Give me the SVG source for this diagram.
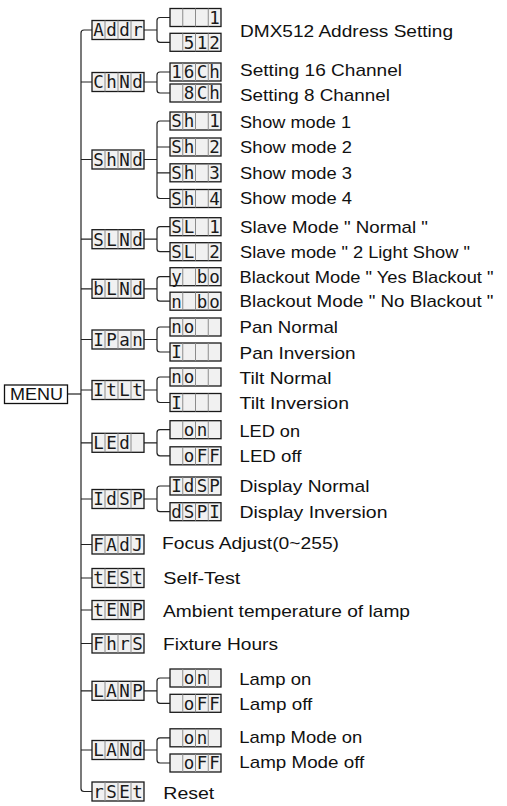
<svg xmlns="http://www.w3.org/2000/svg" xmlns:xlink="http://www.w3.org/1999/xlink" width="507" height="806" viewBox="0 0 507 806">
<style>
.box{fill:#f1f1f1;stroke:#1a1a1a;stroke-width:1.3}
.div{stroke:#8c8c8c;stroke-width:1;fill:none}
.seg{font-family:"DejaVu Sans Mono","Liberation Mono",monospace;font-size:17.5px;fill:#1a1a1a;text-anchor:middle}
.lbl{font-family:"Liberation Sans",Arial,sans-serif;font-size:17px;fill:#111}
.conn path{fill:none;stroke:#222;stroke-width:1.2}
</style>
<defs>
<g id="b1"><rect x="0" y="0" width="52" height="19" class="box"/><path d="M13 0V19M26 0V19M39 0V19" class="div"/></g>
<g id="b2"><rect x="0" y="0" width="51" height="18" class="box"/><path d="M12.75 0V18M25.5 0V18M38.25 0V18" class="div"/></g>
</defs>
<rect width="507" height="806" fill="#fff"/>

<g class="conn" id="connectors">
<path d="M67.5 394H81"/>
<path d="M92 30H84Q81 30 81 33V788.5Q81 791.5 84 791.5H92"/>
<path d="M81 82H92M81 159.5H92M81 239.2H92M81 288.8H92M81 339.5H92M81 390H92M81 442.8H92M81 499H92M81 544.5H92M81 578H92M81 610H92M81 643.5H92M81 690.8H92M81 750H92"/>
<path d="M144 30H157M170 17.5H160Q157 17.5 157 20.5V39.3Q157 42.3 160 42.3H170"/>
<path d="M144 82H157M170 72H160Q157 72 157 75V90Q157 93 160 93H170"/>
<path d="M144 159.5H157M170 121H160Q157 121 157 124V195.5Q157 198.5 160 198.5H170M157 147H170M157 172.8H170"/>
<path d="M144 239.2H157M170 226.7H160Q157 226.7 157 229.7V248.7Q157 251.7 160 251.7H170"/>
<path d="M144 288.8H157M170 276.7H160Q157 276.7 157 279.7V298.2Q157 301.2 160 301.2H170"/>
<path d="M144 339.5H157M170 327H160Q157 327 157 330V349Q157 352 160 352H170"/>
<path d="M144 390H157M170 377H160Q157 377 157 380V399.5Q157 402.5 160 402.5H170"/>
<path d="M144 442.8H157M170 429.7H160Q157 429.7 157 432.7V452.8Q157 455.8 160 455.8H170"/>
<path d="M144 499H157M170 486H160Q157 486 157 489V508.7Q157 511.7 160 511.7H170"/>
<path d="M144 690.8H157M170 678H160Q157 678 157 681V700.3Q157 703.3 160 703.3H170"/>
<path d="M144 750H157M170 737.8H160Q157 737.8 157 740.8V760Q157 763 160 763H170"/>
</g>

<g id="menu">
<rect x="4.5" y="385" width="63" height="18.5" fill="#fff" stroke="#111" stroke-width="1.3"/>
<text class="lbl" x="10" y="400.4" font-size="16.8" textLength="53" lengthAdjust="spacingAndGlyphs">MENU</text>
</g>

<!-- Level 1 nodes -->
<g id="n-addr"><use xlink:href="#b1" x="92" y="20.5"/><text class="seg" x="98.5 111.5 124.5 137.5" y="36.4">Addr</text></g>
<g id="n-chnd"><use xlink:href="#b1" x="92" y="72.5"/><text class="seg" x="98.5 111.5 124.5 137.5" y="88.4">ChNd</text></g>
<g id="n-shnd"><use xlink:href="#b1" x="92" y="150"/><text class="seg" x="98.5 111.5 124.5 137.5" y="165.9">ShNd</text></g>
<g id="n-slnd"><use xlink:href="#b1" x="92" y="229.7"/><text class="seg" x="98.5 111.5 124.5 137.5" y="245.6">SLNd</text></g>
<g id="n-blnd"><use xlink:href="#b1" x="92" y="279.3"/><text class="seg" x="98.5 111.5 124.5 137.5" y="295.2">bLNd</text></g>
<g id="n-ipan"><use xlink:href="#b1" x="92" y="330"/><text class="seg" x="98.5 111.5 124.5 137.5" y="345.9">IPan</text></g>
<g id="n-itlt"><use xlink:href="#b1" x="92" y="380.5"/><text class="seg" x="98.5 111.5 124.5 137.5" y="396.4">ItLt</text></g>
<g id="n-led"><use xlink:href="#b1" x="92" y="433.3"/><text class="seg" x="98.5 111.5 124.5" y="449.2">LEd</text></g>
<g id="n-idsp"><use xlink:href="#b1" x="92" y="489.5"/><text class="seg" x="98.5 111.5 124.5 137.5" y="505.4">IdSP</text></g>
<g id="n-fadj"><use xlink:href="#b1" x="92" y="535"/><text class="seg" x="98.5 111.5 124.5 137.5" y="550.9">FAdJ</text></g>
<g id="n-test"><use xlink:href="#b1" x="92" y="568.5"/><text class="seg" x="98.5 111.5 124.5 137.5" y="584.4">tESt</text></g>
<g id="n-temp"><use xlink:href="#b1" x="92" y="600.5"/><text class="seg" x="98.5 111.5 124.5 137.5" y="616.4">tENP</text></g>
<g id="n-fhrs"><use xlink:href="#b1" x="92" y="634"/><text class="seg" x="98.5 111.5 124.5 137.5" y="649.9">FhrS</text></g>
<g id="n-lamp"><use xlink:href="#b1" x="92" y="681.3"/><text class="seg" x="98.5 111.5 124.5 137.5" y="697.2">LANP</text></g>
<g id="n-land"><use xlink:href="#b1" x="92" y="740.5"/><text class="seg" x="98.5 111.5 124.5 137.5" y="756.4">LANd</text></g>
<g id="n-rset"><use xlink:href="#b1" x="92" y="782"/><text class="seg" x="98.5 111.5 124.5 137.5" y="797.9">rSEt</text></g>

<!-- Level 2 nodes -->
<g id="c-addr-1"><use xlink:href="#b2" x="170" y="8.5"/><text class="seg" x="214.6" y="23.9">1</text></g>
<g id="c-addr-512"><use xlink:href="#b2" x="170" y="33.3"/><text class="seg" x="189.1 201.9 214.6" y="48.7">512</text></g>
<g id="c-ch16"><use xlink:href="#b2" x="170" y="63"/><text class="seg" x="176.4 189.1 201.9 214.6" y="78.4">16Ch</text></g>
<g id="c-ch8"><use xlink:href="#b2" x="170" y="84"/><text class="seg" x="189.1 201.9 214.6" y="99.4">8Ch</text></g>
<g id="c-sh1"><use xlink:href="#b2" x="170" y="112"/><text class="seg" x="176.4 189.1 214.6" y="127.4">Sh1</text></g>
<g id="c-sh2"><use xlink:href="#b2" x="170" y="138"/><text class="seg" x="176.4 189.1 214.6" y="153.4">Sh2</text></g>
<g id="c-sh3"><use xlink:href="#b2" x="170" y="163.8"/><text class="seg" x="176.4 189.1 214.6" y="179.2">Sh3</text></g>
<g id="c-sh4"><use xlink:href="#b2" x="170" y="189.5"/><text class="seg" x="176.4 189.1 214.6" y="204.9">Sh4</text></g>
<g id="c-sl1"><use xlink:href="#b2" x="170" y="217.7"/><text class="seg" x="176.4 189.1 214.6" y="233.1">SL1</text></g>
<g id="c-sl2"><use xlink:href="#b2" x="170" y="242.7"/><text class="seg" x="176.4 189.1 214.6" y="258.1">SL2</text></g>
<g id="c-ybo"><use xlink:href="#b2" x="170" y="267.7"/><text class="seg" x="176.4 201.9 214.6" y="283.1">ybo</text></g>
<g id="c-nbo"><use xlink:href="#b2" x="170" y="292.2"/><text class="seg" x="176.4 201.9 214.6" y="307.6">nbo</text></g>
<g id="c-pan-no"><use xlink:href="#b2" x="170" y="318"/><text class="seg" x="176.4 189.1" y="333.4">no</text></g>
<g id="c-pan-inv"><use xlink:href="#b2" x="170" y="343"/><text class="seg" x="176.4" y="358.4">I</text></g>
<g id="c-tilt-no"><use xlink:href="#b2" x="170" y="368"/><text class="seg" x="176.4 189.1" y="383.4">no</text></g>
<g id="c-tilt-inv"><use xlink:href="#b2" x="170" y="393.5"/><text class="seg" x="176.4" y="408.9">I</text></g>
<g id="c-led-on"><use xlink:href="#b2" x="170" y="420.7"/><text class="seg" x="189.1 201.9" y="436.1">on</text></g>
<g id="c-led-off"><use xlink:href="#b2" x="170" y="446.8"/><text class="seg" x="189.1 201.9 214.6" y="462.2">oFF</text></g>
<g id="c-disp-n"><use xlink:href="#b2" x="170" y="477"/><text class="seg" x="176.4 189.1 201.9 214.6" y="492.4">IdSP</text></g>
<g id="c-disp-i"><use xlink:href="#b2" x="170" y="502.7"/><text class="seg" x="176.4 189.1 201.9 214.6" y="518.1">dSPI</text></g>
<g id="c-lamp-on"><use xlink:href="#b2" x="170" y="669"/><text class="seg" x="189.1 201.9" y="684.4">on</text></g>
<g id="c-lamp-off"><use xlink:href="#b2" x="170" y="694.3"/><text class="seg" x="189.1 201.9 214.6" y="709.7">oFF</text></g>
<g id="c-land-on"><use xlink:href="#b2" x="170" y="728.8"/><text class="seg" x="189.1 201.9" y="744.2">on</text></g>
<g id="c-land-off"><use xlink:href="#b2" x="170" y="754"/><text class="seg" x="189.1 201.9 214.6" y="769.4">oFF</text></g>

<!-- Labels -->
<g id="labels">
<text class="lbl" x="240" y="36.7" textLength="213" lengthAdjust="spacingAndGlyphs">DMX512 Address Setting</text>
<text class="lbl" x="240" y="76" textLength="162" lengthAdjust="spacingAndGlyphs">Setting 16 Channel</text>
<text class="lbl" x="240" y="101" textLength="150" lengthAdjust="spacingAndGlyphs">Setting 8 Channel</text>
<text class="lbl" x="240" y="127.7" textLength="111" lengthAdjust="spacingAndGlyphs">Show mode 1</text>
<text class="lbl" x="240" y="153.3" textLength="112" lengthAdjust="spacingAndGlyphs">Show mode 2</text>
<text class="lbl" x="240" y="179" textLength="112" lengthAdjust="spacingAndGlyphs">Show mode 3</text>
<text class="lbl" x="240" y="204.3" textLength="112" lengthAdjust="spacingAndGlyphs">Show mode 4</text>
<text class="lbl" x="240" y="232.7" textLength="188" lengthAdjust="spacingAndGlyphs">Slave Mode " Normal "</text>
<text class="lbl" x="240" y="258.3" textLength="230" lengthAdjust="spacingAndGlyphs">Slave mode " 2 Light Show "</text>
<text class="lbl" x="239.5" y="283.3" textLength="254" lengthAdjust="spacingAndGlyphs">Blackout Mode " Yes Blackout "</text>
<text class="lbl" x="239.5" y="307.3" textLength="254" lengthAdjust="spacingAndGlyphs">Blackout Mode " No Blackout "</text>
<text class="lbl" x="239.5" y="333.3" textLength="98.5" lengthAdjust="spacingAndGlyphs">Pan Normal</text>
<text class="lbl" x="239.5" y="359" textLength="116" lengthAdjust="spacingAndGlyphs">Pan Inversion</text>
<text class="lbl" x="239.5" y="384" textLength="92" lengthAdjust="spacingAndGlyphs">Tilt Normal</text>
<text class="lbl" x="239.5" y="409.3" textLength="109.5" lengthAdjust="spacingAndGlyphs">Tilt Inversion</text>
<text class="lbl" x="239.5" y="436.7" textLength="60.5" lengthAdjust="spacingAndGlyphs">LED on</text>
<text class="lbl" x="239.5" y="461.7" textLength="62" lengthAdjust="spacingAndGlyphs">LED off</text>
<text class="lbl" x="239.5" y="492.3" textLength="130" lengthAdjust="spacingAndGlyphs">Display Normal</text>
<text class="lbl" x="239.5" y="517.7" textLength="148" lengthAdjust="spacingAndGlyphs">Display Inversion</text>
<text class="lbl" x="162" y="548.5" textLength="177" lengthAdjust="spacingAndGlyphs">Focus Adjust(0~255)</text>
<text class="lbl" x="163.3" y="584.3" textLength="77" lengthAdjust="spacingAndGlyphs">Self-Test</text>
<text class="lbl" x="163" y="617.3" textLength="247" lengthAdjust="spacingAndGlyphs">Ambient temperature of lamp</text>
<text class="lbl" x="163" y="650" textLength="115" lengthAdjust="spacingAndGlyphs">Fixture Hours</text>
<text class="lbl" x="239.3" y="685" textLength="72" lengthAdjust="spacingAndGlyphs">Lamp on</text>
<text class="lbl" x="239.3" y="710" textLength="73" lengthAdjust="spacingAndGlyphs">Lamp off</text>
<text class="lbl" x="239.3" y="743.3" textLength="123" lengthAdjust="spacingAndGlyphs">Lamp Mode on</text>
<text class="lbl" x="239.3" y="768.3" textLength="125" lengthAdjust="spacingAndGlyphs">Lamp Mode off</text>
<text class="lbl" x="163.3" y="798.5" textLength="51" lengthAdjust="spacingAndGlyphs">Reset</text>
</g>
</svg>
